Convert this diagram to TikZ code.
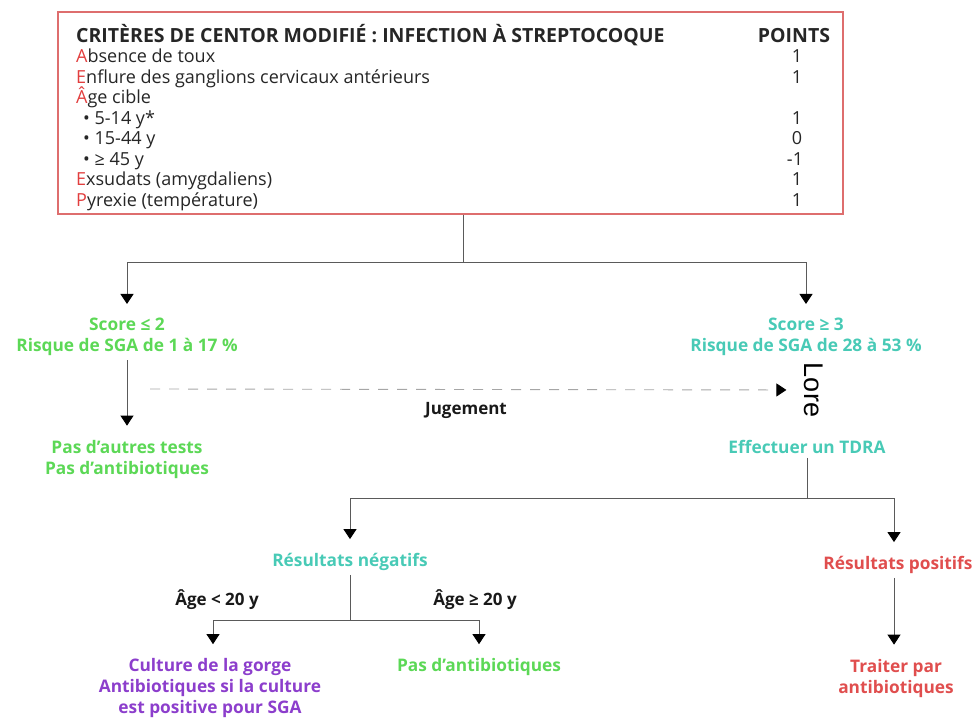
\documentclass[tikz,border=0pt]{standalone}
\usepackage{fontspec}
\setmainfont{Open Sans}
\newfontfamily\lorefont{Liberation Sans}
\usetikzlibrary{arrows.meta}
\usepackage{xcolor}
\definecolor{critred}{RGB}{226,62,62}
\definecolor{boxred}{RGB}{222,110,110}
\definecolor{lowgreen}{RGB}{92,216,86}
\definecolor{midteal}{RGB}{72,202,182}
\definecolor{cultpurple}{RGB}{140,62,204}
\definecolor{posred}{RGB}{224,78,78}
\definecolor{linegray}{RGB}{90,90,90}
\newcommand{\redinit}[1]{\textcolor{critred}{#1}}

\begin{document}
\begin{tikzpicture}[x=1pt, y=-1pt,
  % Node Styles
  critbox/.style={rectangle, draw=boxred, line width=1.4pt, fill=white, minimum width=785pt, minimum height=202pt, inner sep=0pt},
  critrow/.style={anchor=base west, inner sep=0pt, font=\fontsize{18}{20}\selectfont, text=black!85},
  crithead/.style={anchor=base west, inner sep=0pt, font=\bfseries\fontsize{19.5}{20}\selectfont, text=black!85},
  ptrow/.style={anchor=base, inner sep=0pt, font=\fontsize{18}{20}\selectfont, text=black!85},
  flownode/.style={align=center, inner sep=4pt, font=\bfseries\fontsize{17.3}{21}\selectfont},
  agelabel/.style={inner sep=2pt, font=\bfseries\fontsize{17}{21}\selectfont, text=black!90},
  % Arrow Styles
  solidarrow/.style={-{Triangle[width=13pt,length=10pt,color=black]}, draw=linegray, line width=0.9pt, shorten >=10pt},
  plainline/.style={draw=linegray, line width=0.9pt},
  dashedarrow/.style={-{Triangle[width=13pt,length=10pt,color=black]}, draw=gray!70, line width=0.9pt, dash pattern=on 10pt off 9pt, shorten >=16pt}
]
\useasboundingbox (0,0) rectangle (976,717);

% Criteria box
\node[critbox] (critbox) at (450.5,113) {};
\node[crithead] (crittitle) at (76,43) {CRITÈRES DE CENTOR MODIFIÉ : INFECTION À STREPTOCOQUE};
\node[crithead, anchor=base] (pttitle) at (794,43) {POINTS};
\node[critrow] (row_a) at (76,62.5) {\redinit{A}bsence de toux};
\node[critrow] (row_e) at (76,83) {\redinit{E}nflure des ganglions cervicaux antérieurs};
\node[critrow] (row_age) at (76,103.5) {\redinit{Â}ge cible};
\node[critrow] (row_age1) at (83,124) {• 5-14 y*};
\node[critrow] (row_age2) at (83,144.5) {• 15-44 y};
\node[critrow] (row_age3) at (83,165) {• ≥ 45 y};
\node[critrow] (row_ex) at (76,185.5) {\redinit{E}xsudats (amygdaliens)};
\node[critrow] (row_p) at (76,206) {\redinit{P}yrexie (température)};
\node[ptrow] (pt_a) at (797,62.5) {1};
\node[ptrow] (pt_e) at (797,83) {1};
\node[ptrow] (pt_age1) at (797,124) {1};
\node[ptrow] (pt_age2) at (797,144.5) {0};
\node[ptrow] (pt_age3) at (795,165) {-1};
\node[ptrow] (pt_ex) at (797,185.5) {1};
\node[ptrow] (pt_p) at (797,206) {1};

% Flow
\coordinate (split1) at (463,262);
\node[flownode, text=lowgreen] (lowscore) at (127,337) {Score ≤ 2\\Risque de SGA de 1 à 17 \%};
\node[flownode, text=midteal] (highscore) at (806,337) {Score ≥ 3\\Risque de SGA de 28 à 53 \%};
\node[flownode, text=lowgreen] (notests) at (127,459) {Pas d’autres tests\\Pas d’antibiotiques};
\node[rotate=-90, inner sep=2pt, font=\lorefont\fontsize{27}{27}\selectfont] (lore) at (814,390) {Lore};
\coordinate (judgestart) at (150,389);
\node[agelabel] (judge) at (466,410) {Jugement};
\node[flownode, text=midteal] (rdt) at (807,447) {Effectuer un TDRA};
\coordinate (split2) at (807,498);
\node[flownode, text=midteal] (negres) at (350,562) {Résultats négatifs};
\node[flownode, text=posred] (posres) at (898,565) {Résultats positifs};
\node[flownode, text=posred] (treat) at (896,678) {Traiter par\\antibiotiques};
\coordinate (split3) at (350,620);
\node[agelabel] (youngage) at (217,600) {Âge < 20 y};
\node[agelabel] (oldage) at (475,600) {Âge ≥ 20 y};
\node[flownode, text=cultpurple] (culture) at (210,688) {Culture de la gorge\\Antibiotiques si la culture\\est positive pour SGA};
\node[flownode, text=lowgreen] (noabx) at (479,667) {Pas d’antibiotiques};

\draw[plainline] (critbox.south -| split1) -- (split1);
\draw[solidarrow] (split1) -| (lowscore);
\draw[solidarrow] (split1) -| (highscore);
\draw[solidarrow] (lowscore) -- (notests);
\draw[dashedarrow] (judgestart) -- (lore.south);
\draw[plainline] (rdt) -- (split2);
\draw[solidarrow] (split2) -| (negres);
\draw[solidarrow] (split2) -| ([xshift=-4pt]posres.north);
\draw[solidarrow] ([xshift=-4pt]posres.south) -- ([xshift=-2pt]treat.north);
\draw[plainline] (negres) -- (split3);
\draw[solidarrow] (split3) -| ([xshift=3pt]culture.north);
\draw[solidarrow] (split3) -| (noabx);

\end{tikzpicture}
\end{document}
